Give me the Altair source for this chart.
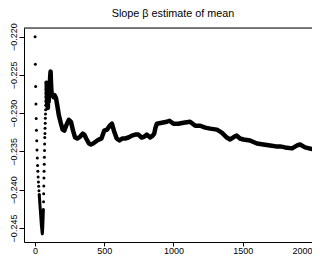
import altair as alt
import pandas as pd

TITLE = "Slope β estimate of mean"
FONT = "Liberation Sans"

# sparse early estimates drawn as separate dots
dot_i = [1, 3, 5, 7, 9, 11, 13, 15, 17, 19, 21, 23, 25, 27, 29, 31,
         62, 63, 64, 65, 66, 67, 68, 69, 70, 71, 72, 73, 74, 75, 76, 77,
         78, 79, 80, 81, 82, 83, 84]
dot_v = [-0.22000, -0.22361, -0.22652, -0.22880, -0.23070, -0.23224, -0.23361,
         -0.23482, -0.23585, -0.23683, -0.23757, -0.23834, -0.23899, -0.23954,
         -0.24014, -0.24066,
         -0.24156, -0.24053, -0.23950, -0.23847, -0.23757, -0.23666, -0.23576,
         -0.23486, -0.23402, -0.23318, -0.23267, -0.23196, -0.23132, -0.23067,
         -0.23009, -0.22954, -0.22897, -0.22845, -0.22790, -0.22738, -0.22687,
         -0.22642, -0.22603]

# dense bottom of the dip (points overlap into a strip)
dip_i = [31, 33, 35, 37, 39, 41, 43, 45, 47, 49, 51, 53, 55, 57, 59, 61]
dip_v = [-0.24066, -0.24117, -0.24169, -0.24220, -0.24271, -0.24323, -0.24375,
         -0.24426, -0.24478, -0.24504, -0.24549, -0.24577, -0.24543, -0.24452,
         -0.24362, -0.24259]

# later estimates: dense, drawn as a thick trace
line_i = [84, 85, 87, 89, 91, 93, 96, 99, 102, 106, 110, 113, 116, 120, 126, 134,
          142, 152, 162, 172, 186, 200, 212, 228, 245, 260, 275, 290, 305, 327,
          345, 356, 370, 390, 404, 420, 440, 460, 480, 500, 520, 540, 556, 570,
          590, 610, 630, 650, 675, 700, 724, 747, 770, 790, 808, 832, 850, 861,
          870, 880, 916, 952, 971, 1000, 1036, 1072, 1120, 1157, 1193, 1229,
          1265, 1313, 1349, 1385, 1409, 1440, 1457, 1480, 1505, 1553, 1602,
          1649, 1698, 1740, 1770, 1806, 1856, 1893, 1914, 1950, 2000]
line_v = [-0.22603, -0.22610, -0.22803, -0.22906, -0.22777, -0.22932, -0.22738,
          -0.22854, -0.22648, -0.22700, -0.22519, -0.22455, -0.22610, -0.22738,
          -0.22764, -0.22790, -0.22764, -0.22803, -0.22906, -0.23022, -0.23125,
          -0.23215, -0.23228, -0.23151, -0.23086, -0.23112, -0.23228, -0.23318,
          -0.23331, -0.23305, -0.23267, -0.23280, -0.23331, -0.23396, -0.23409,
          -0.23396, -0.23370, -0.23344, -0.23331, -0.23228, -0.23215, -0.23164,
          -0.23138, -0.23228, -0.23331, -0.23357, -0.23331, -0.23331, -0.23318,
          -0.23293, -0.23280, -0.23280, -0.23318, -0.23305, -0.23280, -0.23318,
          -0.23293, -0.23267, -0.23189, -0.23138, -0.23125, -0.23112, -0.23099,
          -0.23138, -0.23138, -0.23125, -0.23112, -0.23164, -0.23164, -0.23189,
          -0.23202, -0.23215, -0.23254, -0.23318, -0.23344, -0.23305, -0.23293,
          -0.23331, -0.23344, -0.23357, -0.23396, -0.23409, -0.23421, -0.23434,
          -0.23434, -0.23447, -0.23460, -0.23421, -0.23409, -0.23447, -0.23467]

x_ticks = [0, 500, 1000, 1500, 2000]
y_ticks = [-0.245, -0.240, -0.235, -0.230, -0.225, -0.220]

W, H = 288, 214

dots = pd.DataFrame({"i": dot_i, "v": dot_v})
dip = pd.DataFrame({"i": dip_i, "v": dip_v})
trace = pd.DataFrame({"i": line_i, "v": line_v})

xs = alt.Scale(domain=[-79, 2000], nice=False, zero=False)
ys = alt.Scale(domain=[-0.24683, -0.21887], nice=False, zero=False)

xax = alt.Axis(values=x_ticks, format="d", title=None, grid=False,
               domainColor="black", tickColor="black", tickSize=4,
               labelFont=FONT, labelFontSize=9, labelColor="black",
               labelBaseline="alphabetic", labelPadding=7.8,
               labelFlush=True, labelOverlap=False)
yax = alt.Axis(values=y_ticks, format=".3f", title=None, grid=False,
               domainColor="black", tickColor="black", tickSize=5,
               labelFont=FONT, labelFontSize=9, labelColor="black",
               labelAngle=270, labelAlign="center", labelBaseline="alphabetic",
               labelPadding=2.5, labelFlush=False, labelOverlap=False)

X = alt.X("i:Q", scale=xs, axis=xax)
Y = alt.Y("v:Q", scale=ys, axis=yax)

pts = alt.Chart(dots).mark_circle(color="black", size=9, opacity=1).encode(x=X, y=Y)
dipl = alt.Chart(dip).mark_line(color="black", strokeWidth=3, strokeCap="round",
                                strokeJoin="round").encode(x=X, y=Y)
thick = alt.Chart(trace).mark_line(color="black", strokeWidth=4.5, strokeCap="round",
                                   strokeJoin="round").encode(x=X, y=Y)
top_border = alt.Chart(pd.DataFrame({"k": [0]})).mark_rule(
    color="black", strokeWidth=1).encode(
    x=alt.value(0), x2=alt.value(W), y=alt.value(0))

chart = alt.layer(pts, dipl, thick, top_border).properties(
    width=W, height=H,
    title=alt.TitleParams(TITLE, font=FONT, fontSize=10.8, fontWeight="normal",
                          color="black", anchor="middle", offset=4, dx=5),
    autosize=alt.AutoSizeParams(type="none"),
    padding={"left": 16, "top": 20, "right": 0, "bottom": 13},
).configure_view(strokeWidth=0).configure(background="white")

chart.save("out.html", embed_options={"renderer": "svg", "actions": False})
